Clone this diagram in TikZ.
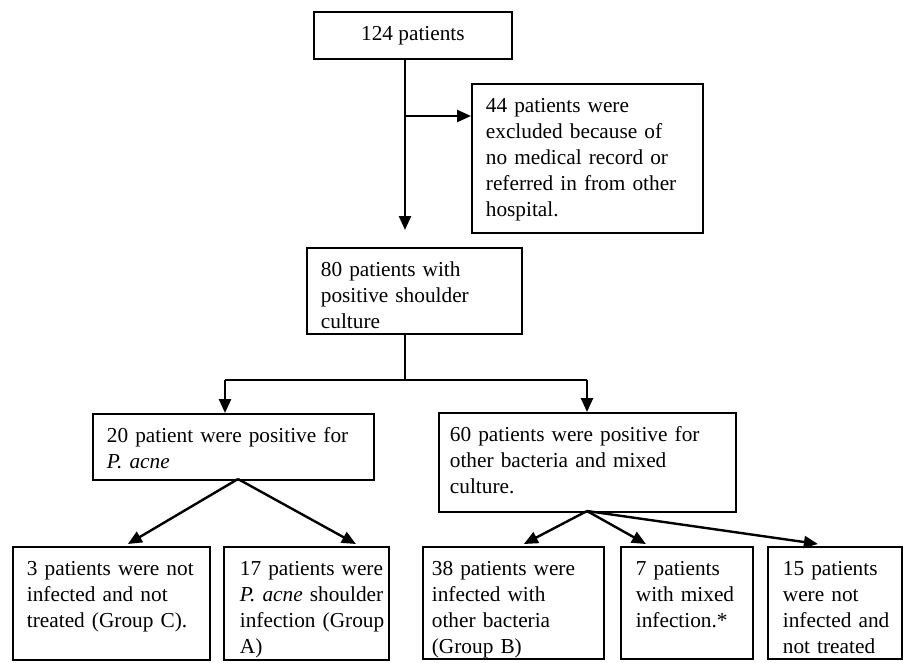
\documentclass[tikz,border=0pt]{standalone}
\usepackage{fontspec}
\setmainfont{Liberation Serif}
\usetikzlibrary{arrows.meta,calc}
\tikzset{
  bx/.style n args={3}{draw, line width=1.8pt, anchor=north west, inner xsep=0pt, inner ysep=0pt,
    text width=#1pt, text height=29pt, text depth=#2pt-29pt,
    font=\fontsize{21.3}{25.8}\selectfont,
    execute at begin node={\hyphenpenalty=10000\relax\leftskip=#3pt\relax\rightskip=5pt plus 1fil minus 30pt\relax\parindent=0pt\relax}},
  ln/.style={line width=2.4pt},
  arr/.style={line width=2.4pt, -{Triangle[length=14pt,width=12pt]}},
}
\begin{document}
\begin{tikzpicture}[x=1pt,y=-1pt]
\useasboundingbox (0,0) rectangle (904,662);
\node[draw, line width=1.8pt, anchor=north west, minimum width=198pt, minimum height=47pt, inner sep=0pt,
  font=\fontsize{21.3}{25.8}\selectfont] (top) at (313,11) {124 patients};
\node[bx={231}{149}{14}] (excl) at (471,83) {44 patients were\\excluded because of\\no medical record or\\referred in from other\\hospital.};
\node[bx={215}{86}{14}] (b80) at (306,247) {80 patients with\\positive shoulder\\culture};
\node[bx={281}{66}{14}] (b20) at (92,413) {20 patient were positive for\\\textit{P. acne}};
\node[bx={297}{99}{11}] (b60) at (438,412) {60 patients were positive for\\other bacteria and mixed\\culture.};
\node[bx={197}{113}{14}] (b3) at (12,546) {3 patients were not\\infected and not\\treated (Group C).};
\node[bx={165}{113}{16}] (b17) at (223,546) {17 patients were\\\textit{P. acne} shoulder\\infection (Group\\A)};
\node[bx={181}{112}{9}] (b38) at (422,546) {38 patients were\\infected with\\other bacteria\\(Group B)};
\node[bx={132}{112}{15}] (b7) at (620,546) {7 patients\\with mixed\\infection.*};
\node[bx={134}{112}{15}] (b15) at (767,546) {15 patients\\were not\\infected and\\not treated};

\coordinate (j1) at (405,116);
\coordinate (j2) at (405,380);
\coordinate (jl) at (225,380);
\coordinate (jr) at (587,380);
\coordinate (s20) at (238,479);
\coordinate (s60) at (587,511);

\draw[arr] (j1 |- top.south) -- ($(j1 |- b80.north)+(0,-17)$);
\draw[arr] (j1) -- (j1 -| excl.west);
\draw[ln] (j2 |- b80.south) -- (j2);
\draw[ln] (jl) -- (jr);
\draw[arr] (jl) -- (jl |- b20.north);
\draw[arr] (jr) -- (jr |- b60.north);
\draw[arr] (s20) -- ($(b3.north)+(16.5,-2)$);
\draw[arr] (s20) -- ($(b17.north)+(49.5,-2)$);
\draw[arr] (s60) -- ($(b38.north)+(10.5,-2)$);
\draw[arr] (s60) -- ($(b7.north)+(-41,-2)$);
\draw[arr] (s60) -- ($(b15.north)+(-17,-2)$);
\end{tikzpicture}
\end{document}
